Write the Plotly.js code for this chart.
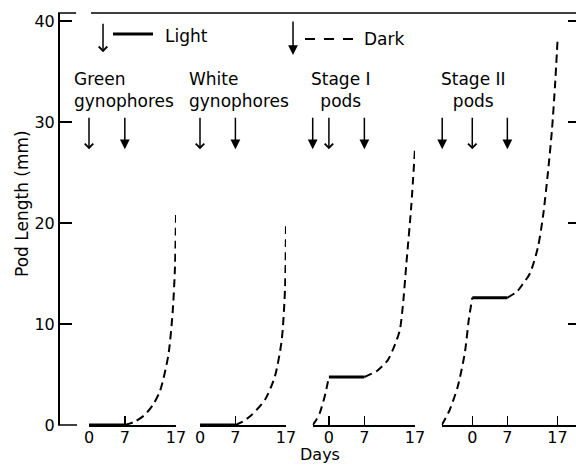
<!DOCTYPE html>
<html>
<head>
<meta charset="utf-8">
<script src="https://cdn.plot.ly/plotly-3.0.1.min.js"></script>
<style>html,body{margin:0;padding:0;background:#fff;}#chart{width:576px;height:467px;}</style>
</head>
<body>
<div id="chart"></div>
<script>
// ---- data (days vs pod length, mm) ----
const panelNames = ['Green<br>gynophores', 'White<br>gynophores', 'Stage I<br>pods', 'Stage II<br>pods'];
const dayTicks = [0, 7, 17];
const lengthTicks = [0, 10, 20, 30, 40];

const light1Days = [0, 7];
const light1Len = [0, 0];
const dark1Days = [7, 9, 10.9, 12.5, 13.9, 15.5, 16.35, 16.8, 17];
const dark1Len = [0, 0.35, 1.0, 2.0, 3.4, 6.9, 11.2, 15.6, 20.8];

const light2Days = [0, 7];
const light2Len = [0, 0];
const dark2Days = [7, 8.5, 10.2, 12.85, 14.8, 16.15, 16.8, 17];
const dark2Len = [0, 0.35, 1.0, 2.5, 4.8, 8.4, 13.4, 20.1];

const dark3aDays = [-3.2, -2.5, -1.8, -0.85, 0];
const dark3aLen = [0, 0.5, 1.2, 2.8, 4.75];
const light3Days = [0, 7];
const light3Len = [4.75, 4.75];
const dark3bDays = [7, 8.5, 9.6, 11.6, 13.0, 14.0, 14.6, 15.3, 16.25, 17];
const dark3bLen = [4.75, 5.1, 5.4, 6.4, 7.9, 9.4, 11.8, 16.0, 21.6, 27.4];

const dark4aDays = [-6.1, -5.3, -4.5, -2.9, -1.5, -0.7, 0];
const dark4aLen = [0, 0.7, 1.5, 3.8, 7.1, 10.4, 12.6];
const light4Days = [0, 7];
const light4Len = [12.6, 12.6];
const dark4bDays = [7, 8.9, 10, 11.5, 13.1, 14.1, 15.1, 15.9, 16.5, 17.05];
const dark4bLen = [12.6, 13.2, 13.9, 15.0, 17.6, 20.6, 25, 29.2, 33.5, 38.4];

// transfer arrows (days): open = into light, filled = into dark
const lightArrowDays = [[0], [0], [0], [0]];
const darkArrowDays = [[7], [7], [-3.2, 7], [-6, 7]];
const arrowLevel = 27.3;

// ---- styling ----
const FONT = 'DejaVu Sans, sans-serif';
const INK = '#000';
const solid = {color: INK, width: 3};
const dashed = {color: INK, width: 2, dash: '8px,5px', shape: 'spline', smoothing: 0.7};

const xrefs = ['x', 'x2', 'x3', 'x4'];
function tr(x, y, line, xa, name) {
  return {x: x, y: y, mode: 'lines', line: line, xaxis: xa, yaxis: 'y', name: name,
          showlegend: false, hoverinfo: 'skip'};
}
const data = [
  tr(light1Days, light1Len, solid, 'x', 'Light'),
  tr(dark1Days, dark1Len, dashed, 'x', 'Dark'),
  tr(light2Days, light2Len, solid, 'x2', 'Light'),
  tr(dark2Days, dark2Len, dashed, 'x2', 'Dark'),
  tr(dark3aDays, dark3aLen, dashed, 'x3', 'Dark'),
  tr(light3Days, light3Len, solid, 'x3', 'Light'),
  tr(dark3bDays, dark3bLen, dashed, 'x3', 'Dark'),
  tr(dark4aDays, dark4aLen, dashed, 'x4', 'Dark'),
  tr(light4Days, light4Len, solid, 'x4', 'Light'),
  tr(dark4bDays, dark4bLen, dashed, 'x4', 'Dark'),
  {x: [], y: [], xaxis: 'x4', yaxis: 'y2', mode: 'lines', showlegend: false, hoverinfo: 'skip'}
];

function xax(domain, range) {
  return {domain: domain, range: range, anchor: 'y', tickvals: dayTicks, ticks: 'inside',
          ticklen: 9, tickwidth: 1.5, tickcolor: INK, showline: true, linewidth: 1.5, linecolor: INK,
          showgrid: false, zeroline: false, fixedrange: true, ticklabelstandoff: -3,
          tickfont: {family: FONT, size: 16, color: INK}};
}

const annotations = [];
// group labels
const labelPos = [[0.027, 'left'], [0.249, 'left'], [0.5463, 'center'], [0.803, 'center']];
panelNames.forEach((t, i) => {
  annotations.push({text: t, xref: 'paper', yref: 'paper', x: labelPos[i][0], y: 0.813,
    xanchor: labelPos[i][1], yanchor: 'middle', align: labelPos[i][1], showarrow: false,
    font: {family: FONT, size: 17, color: INK}});
});
// transfer arrows
function arrow(xref, x, y, filled, yref, ay) {
  return {text: '', xref: xref, yref: yref, x: x, y: y, ax: 0, ay: ay, showarrow: true,
    arrowhead: filled ? 2 : 4, arrowsize: filled ? 1.3 : 1.1, arrowwidth: 1.5, arrowcolor: INK, standoff: 0};
}
for (let i = 0; i < 4; i++) {
  lightArrowDays[i].forEach(d => annotations.push(arrow(xrefs[i], d, arrowLevel, false, 'y', -33)));
  darkArrowDays[i].forEach(d => annotations.push(arrow(xrefs[i], d, arrowLevel, true, 'y', -33)));
}
// key
annotations.push(arrow('paper', 0.0869, 0.905, false, 'paper', -30));
annotations.push(arrow('paper', 0.4537, 0.898, true, 'paper', -35));
annotations.push({text: 'Light', xref: 'paper', yref: 'paper', x: 0.2027, y: 0.944, xanchor: 'left',
  yanchor: 'middle', showarrow: false, font: {family: FONT, size: 17, color: INK}});
annotations.push({text: 'Dark', xref: 'paper', yref: 'paper', x: 0.5869, y: 0.937, xanchor: 'left',
  yanchor: 'middle', showarrow: false, font: {family: FONT, size: 17, color: INK}});
// axis titles
annotations.push({text: 'Days', xref: 'paper', yref: 'paper', x: 0.5058, y: -0.0995, xanchor: 'center',
  yanchor: 'bottom', showarrow: false, font: {family: FONT, size: 16, color: INK}});
annotations.push({text: 'Pod Length (mm)', xref: 'paper', yref: 'paper', x: -0.0695, y: 0.539,
  xanchor: 'center', yanchor: 'middle', textangle: -90, showarrow: false,
  font: {family: FONT, size: 17, color: INK}});

const shapes = [
  {type: 'line', xref: 'paper', yref: 'paper', x0: 0, x1: 0.035, y0: 1, y1: 1, line: {color: INK, width: 1.5}},
  {type: 'line', xref: 'paper', yref: 'paper', x0: 0.0637, x1: 1, y0: 1, y1: 1, line: {color: INK, width: 1.5}},
  {type: 'line', xref: 'paper', yref: 'paper', x0: 0, x1: 0.0367, y0: 0, y1: 0, line: {color: INK, width: 1.5}},
  {type: 'line', xref: 'paper', yref: 'paper', x0: 0.1062, x1: 0.1834, y0: 0.949, y1: 0.949, line: {color: INK, width: 3}},
  {type: 'line', xref: 'paper', yref: 'paper', x0: 0.4768, x1: 0.5792, y0: 0.937, y1: 0.937, line: {color: INK, width: 2, dash: '10px,9px'}}
];

const layout = {
  width: 576, height: 467,
  margin: {l: 58, r: 0, t: 13, b: 42, pad: 0},
  paper_bgcolor: '#fff', plot_bgcolor: '#fff',
  showlegend: false,
  font: {family: FONT, size: 16, color: INK},
  xaxis: xax([0.05985, 0.2278], [0, 17]),
  xaxis2: xax([0.27413, 0.44015], [0, 17]),
  xaxis3: xax([0.4917, 0.68919], [-3.2, 17]),
  xaxis4: xax([0.74073, 1], [-6.1, 20.7]),
  yaxis: {range: [0, 40.8], tickvals: lengthTicks, ticks: 'inside', ticklen: 12, tickwidth: 1.5,
          tickcolor: INK, showline: true, linewidth: 1.5, linecolor: INK, showgrid: false,
          zeroline: false, fixedrange: true, anchor: 'free', position: 0,
          tickfont: {family: FONT, size: 16, color: INK}},
  yaxis2: {range: [0, 40.8], overlaying: 'y', side: 'right', anchor: 'free', position: 1,
           tickvals: [10, 20, 30, 40], ticks: 'inside', ticklen: 8, tickwidth: 1.5, tickcolor: INK,
           showticklabels: false, showline: false, showgrid: false, zeroline: false, fixedrange: true},
  annotations: annotations,
  shapes: shapes
};

Plotly.newPlot('chart', data, layout, {displayModeBar: false, staticPlot: true});
</script>
</body>
</html>
